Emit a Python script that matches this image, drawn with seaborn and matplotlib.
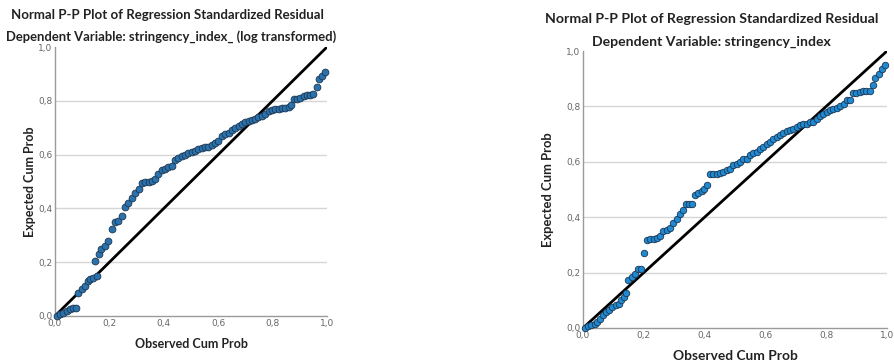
import matplotlib
matplotlib.use("Agg")
from matplotlib import pyplot as plt
import seaborn as sns

# values
left_observed = [0.006, 0.02, 0.031, 0.043, 0.055, 0.067, 0.077, 0.086, 0.098, 0.11,
                 0.12, 0.13, 0.14, 0.153, 0.147, 0.16, 0.17, 0.184, 0.196, 0.209,
                 0.22, 0.233, 0.245, 0.258, 0.27, 0.282, 0.294, 0.307, 0.319, 0.33,
                 0.344, 0.356, 0.368, 0.38, 0.393, 0.405, 0.417, 0.43, 0.442, 0.454,
                 0.466, 0.479, 0.49, 0.503, 0.515, 0.527, 0.54, 0.552, 0.564, 0.577,
                 0.589, 0.6, 0.613, 0.626, 0.638, 0.65, 0.662, 0.675, 0.687, 0.7,
                 0.712, 0.724, 0.736, 0.748, 0.76, 0.773, 0.785, 0.797, 0.81, 0.822,
                 0.834, 0.847, 0.859, 0.867, 0.877, 0.89, 0.9, 0.914, 0.926, 0.938,
                 0.95, 0.963, 0.972, 0.98, 0.993]
left_expected = [0.0, 0.006, 0.012, 0.02, 0.025, 0.03, 0.03, 0.087, 0.1, 0.11,
                 0.13, 0.137, 0.14, 0.15, 0.205, 0.23, 0.25, 0.26, 0.28, 0.323,
                 0.348, 0.354, 0.373, 0.404, 0.42, 0.44, 0.456, 0.472, 0.493, 0.497,
                 0.5, 0.503, 0.51, 0.528, 0.543, 0.547, 0.553, 0.557, 0.58, 0.586,
                 0.593, 0.6, 0.605, 0.609, 0.612, 0.619, 0.624, 0.627, 0.63, 0.635,
                 0.642, 0.652, 0.671, 0.675, 0.681, 0.69, 0.7, 0.708, 0.714, 0.72,
                 0.724, 0.729, 0.733, 0.739, 0.745, 0.752, 0.761, 0.766, 0.77, 0.77,
                 0.773, 0.774, 0.776, 0.783, 0.805, 0.805, 0.81, 0.816, 0.82, 0.822,
                 0.826, 0.851, 0.882, 0.894, 0.907]

right_observed = [0.005, 0.016, 0.027, 0.038, 0.046, 0.055, 0.066, 0.075, 0.086, 0.097,
                  0.108, 0.119, 0.126, 0.134, 0.143, 0.148, 0.16, 0.17, 0.181, 0.192,
                  0.2, 0.211, 0.222, 0.233, 0.242, 0.253, 0.264, 0.275, 0.286, 0.297,
                  0.308, 0.319, 0.33, 0.338, 0.349, 0.359, 0.368, 0.379, 0.39, 0.399,
                  0.409, 0.418, 0.429, 0.44, 0.45, 0.462, 0.473, 0.484, 0.495, 0.505,
                  0.516, 0.527, 0.538, 0.549, 0.56, 0.571, 0.582, 0.593, 0.604, 0.615,
                  0.626, 0.637, 0.648, 0.659, 0.67, 0.681, 0.692, 0.703, 0.714, 0.725,
                  0.736, 0.747, 0.758, 0.769, 0.78, 0.791, 0.802, 0.813, 0.824, 0.835,
                  0.846, 0.857, 0.868, 0.879, 0.888, 0.899, 0.91, 0.921, 0.932, 0.945,
                  0.954, 0.962, 0.973, 0.984, 0.995]
right_expected = [0.0, 0.006, 0.01, 0.016, 0.022, 0.034, 0.046, 0.058, 0.066, 0.076,
                  0.082, 0.088, 0.1, 0.112, 0.126, 0.172, 0.184, 0.196, 0.214, 0.214,
                  0.271, 0.316, 0.32, 0.322, 0.326, 0.331, 0.35, 0.353, 0.362, 0.379,
                  0.395, 0.413, 0.425, 0.446, 0.449, 0.449, 0.479, 0.487, 0.494, 0.503,
                  0.517, 0.555, 0.555, 0.557, 0.56, 0.563, 0.569, 0.575, 0.587, 0.593,
                  0.6, 0.611, 0.611, 0.623, 0.632, 0.635, 0.647, 0.653, 0.663, 0.672,
                  0.684, 0.69, 0.696, 0.704, 0.711, 0.714, 0.72, 0.726, 0.732, 0.738,
                  0.738, 0.744, 0.744, 0.756, 0.765, 0.774, 0.78, 0.786, 0.792, 0.796,
                  0.8, 0.81, 0.822, 0.824, 0.848, 0.848, 0.851, 0.855, 0.857, 0.857,
                  0.876, 0.904, 0.918, 0.936, 0.948]

ref_line = [0.0, 1.0]
ticks = [0.0, 0.2, 0.4, 0.6, 0.8, 1.0]
tick_labels = ["0,0", "0,2", "0,4", "0,6", "0,8", "1,0"]

title_main = "Normal P-P Plot of Regression Standardized Residual"
left_sub = "Dependent Variable: stringency_index_ (log transformed)"
right_sub = "Dependent Variable: stringency_index"

sns.set_style("white")
plt.rcParams['font.family'] = ['Lato', 'DejaVu Sans']

W, H = 894, 364
fig = plt.figure(figsize=(W / 100, H / 100), dpi=100)

ax_l = fig.add_axes([55 / W, 48 / H, 272 / W, 269 / H])
ax_r = fig.add_axes([583 / W, 36 / H, 304 / W, 277 / H])


def draw_panel(ax, obs, exp, color, size):
    ax.set_xlim(0, 1)
    ax.set_ylim(0, 1)
    for t in ticks[1:-1]:
        ax.axhline(t, color="#d6d6d6", lw=1, zorder=0)
    sns.lineplot(x=ref_line, y=ref_line, ax=ax, color="black", lw=2, zorder=2)
    sns.scatterplot(x=obs, y=exp, ax=ax, color=color, edgecolor="#1d3550",
                    linewidth=0.6, s=size, zorder=3, clip_on=False)
    ax.set_xticks(ticks)
    ax.set_yticks(ticks)
    ax.set_xticklabels(tick_labels, fontsize=6.5, color="#666666",
                       family=['DejaVu Sans'])
    ax.set_yticklabels(tick_labels, fontsize=6.5, color="#666666",
                       family=['DejaVu Sans'])
    ax.tick_params(length=0, pad=2)
    sns.despine(ax=ax)
    for side in ["left", "bottom"]:
        ax.spines[side].set_color("#9a9a9a")
        ax.spines[side].set_linewidth(1)


draw_panel(ax_l, left_observed, left_expected, "#2a72ac", 24)
draw_panel(ax_r, right_observed, right_expected, "#1f8ad2", 22)

ax_l.set_xlabel("Observed Cum Prob", fontsize=9, fontweight="bold", color="#222222")
ax_l.set_ylabel("Expected Cum Prob", fontsize=9, fontweight="bold", color="#222222")
ax_r.set_xlabel("Observed Cum Prob", fontsize=9.9, fontweight="bold", color="#222222")
ax_r.set_ylabel("Expected Cum Prob", fontsize=9.4, fontweight="bold", color="#222222")

ax_l.xaxis.set_label_coords(0.5, -0.08)
ax_l.yaxis.set_label_coords(-0.07, 0.5)
ax_r.xaxis.set_label_coords(0.5, -0.08)
ax_r.yaxis.set_label_coords(-0.095, 0.5)

fig.text(167 / W, 1 - 15 / H, title_main, ha="center", va="center",
         fontsize=9.5, fontweight="bold", color="#222222")
fig.text(171 / W, 1 - 37 / H, left_sub, ha="center", va="center",
         fontsize=9.4, fontweight="bold", color="#222222")
fig.text(712 / W, 1 - 19 / H, title_main, ha="center", va="center",
         fontsize=10.2, fontweight="bold", color="#222222")
fig.text(711 / W, 1 - 42 / H, right_sub, ha="center", va="center",
         fontsize=10.1, fontweight="bold", color="#222222")

fig.savefig("out.png", dpi=100)
